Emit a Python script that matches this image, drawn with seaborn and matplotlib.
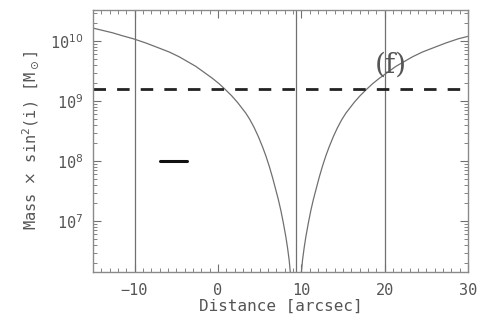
import numpy as np
import matplotlib
matplotlib.use("Agg")
import matplotlib.pyplot as plt
import seaborn as sns
from matplotlib.ticker import FixedLocator, NullFormatter, LogLocator

# curve: distance [arcsec] and log10 of mass
dist_left = [-15.05, -13.85, -12.65, -11.45, -10.15, -8.65, -7.15, -5.85,
             -4.65, -3.65, -2.65, -1.65, -0.65, 0.15, 0.85, 1.65, 2.35,
             2.85, 3.35, 3.85, 4.35, 4.85, 5.35, 5.75, 6.15, 6.55, 6.95,
             7.25, 7.55, 7.85, 8.15, 8.35, 8.55, 8.85]
logm_left = [10.22, 10.18, 10.14, 10.09, 10.04, 9.97, 9.89, 9.82,
             9.74, 9.66, 9.58, 9.48, 9.38, 9.29, 9.20, 9.09, 8.98,
             8.89, 8.80, 8.69, 8.56, 8.41, 8.24, 8.09, 7.92, 7.73, 7.52,
             7.36, 7.18, 6.97, 6.74, 6.56, 6.35, 5.90]
dist_right = [9.85, 10.15, 10.35, 10.55, 10.85, 11.15, 11.45, 11.75, 12.15,
              12.55, 12.95, 13.35, 13.85, 14.35, 14.85, 15.35, 15.85, 16.35,
              17.05, 17.85, 18.55, 19.35, 20.35, 21.35, 22.35, 23.35, 24.55,
              25.85, 27.35, 28.85, 30.0]
logm_right = [5.90, 6.35, 6.56, 6.74, 6.97, 7.18, 7.36, 7.52, 7.73,
              7.92, 8.09, 8.24, 8.41, 8.56, 8.69, 8.80, 8.89, 8.98,
              9.09, 9.20, 9.29, 9.38, 9.48, 9.58, 9.66, 9.74, 9.82,
              9.89, 9.97, 10.04, 10.08]

vlines_x = [-10, 9.35, 20]
dashed_mass = 1.6e9
bar_x = [-7.0, -3.7]
bar_mass = [1e8, 1e8]
panel_label = "(f)"

xlim = (-15, 30)
ylim = (1.45e6, 3.3e10)
x_ticks = [-10, 0, 10, 20, 30]
y_ticks = [1e7, 1e8, 1e9, 1e10]
y_ticklabels = [r"10$^{7}$", r"10$^{8}$", r"10$^{9}$", r"10$^{10}$"]

sns.set_style("ticks")
plt.rcParams["font.family"] = ["DejaVu Sans Mono"]

gray = "#707070"
text_col = "#555555"

fig = plt.figure(figsize=(4.81, 3.24), dpi=100)
ax = fig.add_axes([0.193, 0.162, 0.780, 0.807])
ax.set_yscale("log")

for xv in vlines_x:
    ax.axvline(xv, color=gray, lw=0.9, zorder=1)

sns.lineplot(x=dist_left, y=10 ** np.array(logm_left), ax=ax, sort=False,
             estimator=None, color=gray, lw=0.9)
sns.lineplot(x=dist_right, y=10 ** np.array(logm_right), ax=ax, sort=False,
             estimator=None, color=gray, lw=0.9)

ax.axhline(dashed_mass, color="#222222", lw=2.0, dashes=(4.5, 4.0))
sns.lineplot(x=bar_x, y=bar_mass, ax=ax, color="#111111", lw=2.2,
             estimator=None)

ax.text(20.7, 10 ** 9.6, panel_label, fontsize=20, family="DejaVu Serif",
        color="#555555", ha="center", va="center")

ax.set_xlim(*xlim)
ax.set_ylim(*ylim)
ax.set_xticks(x_ticks)
ax.xaxis.set_minor_locator(FixedLocator(np.arange(-15, 31, 1)))
ax.set_yticks(y_ticks)
ax.set_yticklabels(y_ticklabels)
ax.yaxis.set_minor_locator(LogLocator(base=10, subs=np.arange(2, 10)))
ax.yaxis.set_minor_formatter(NullFormatter())

ax.tick_params(which="both", direction="in", top=True, right=True,
               colors=gray, labelcolor=text_col, labelsize=11)
ax.tick_params(axis="x", which="major", pad=8)
ax.tick_params(axis="y", which="major", pad=7)
ax.tick_params(which="major", length=6, width=0.8)
ax.tick_params(which="minor", length=3, width=0.6)
for sp in ax.spines.values():
    sp.set_color("#8a8a8a")
    sp.set_linewidth(1.0)

ax.set_xlabel("Distance [arcsec]", color=text_col, fontsize=11.5, labelpad=1)
ax.set_ylabel(r"Mass $\times$ sin$^2$(i) [M$_\odot$]", color=text_col,
              fontsize=11, labelpad=6)

fig.savefig("out.png", dpi=100)
